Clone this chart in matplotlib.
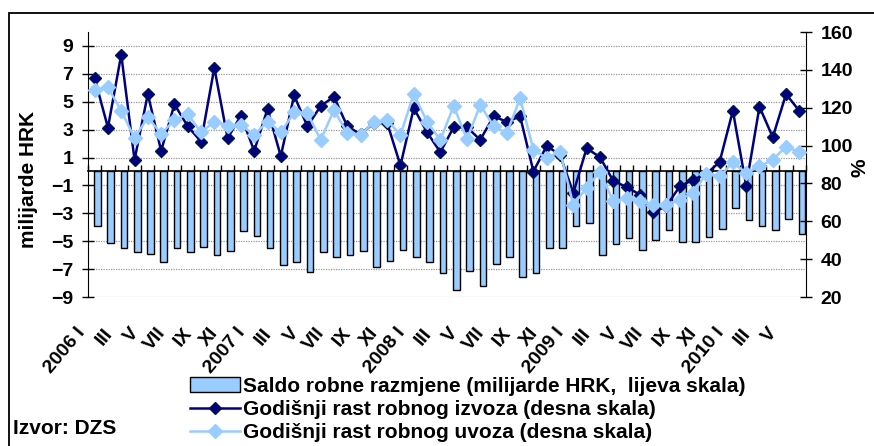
import matplotlib
matplotlib.use("Agg")
import matplotlib.pyplot as plt
import matplotlib.transforms as mtransforms
from matplotlib.patches import Rectangle
import numpy as np

plt.rcParams['font.family'] = ['Liberation Sans', 'DejaVu Sans']
plt.rcParams['font.weight'] = 'bold'

# monthly data, I/2006 - VI/2010
years = [2006, 2007, 2008, 2009, 2010]
months = ['I', 'II', 'III', 'IV', 'V', 'VI', 'VII', 'VIII', 'IX', 'X', 'XI', 'XII']
months_2010 = 6

# saldo robne razmjene, milijarde HRK (lijeva skala)
saldo = [-3.9, -5.1, -5.5, -5.8, -5.9, -6.5, -5.5, -5.8, -5.4, -6.0, -5.7, -4.3,
         -4.6, -5.5, -6.7, -6.5, -7.2, -5.8, -6.1, -6.0, -5.7, -6.85, -6.4, -5.65,
         -6.1, -6.5, -7.3, -8.5, -7.1, -8.2, -6.6, -6.1, -7.6, -7.3, -5.5, -5.5,
         -3.9, -3.7, -6.0, -5.2, -4.8, -5.65, -4.9, -4.2, -5.05, -5.05, -4.7, -4.1,
         -2.6, -3.5, -3.9, -4.2, -3.4, -4.45]

# godisnji rast robnog izvoza, % (desna skala)
izvoz = [135.5, 109.5, 148.1, 92.5, 127.2, 97.2, 121.8, 110.2, 102.1, 141.1, 103.9, 115.8,
         97.2, 119.3, 94.4, 126.5, 110.2, 120.9, 125.8, 110.2, 106.0, 112.0, 112.0, 89.5,
         119.8, 107.0, 96.5, 109.7, 109.7, 103.0, 115.4, 112.6, 115.4, 86.3, 99.9, 95.0,
         75.0, 98.6, 93.9, 81.4, 78.1, 74.1, 64.7, 68.0, 78.4, 81.9, 85.0, 91.3,
         118.4, 78.8, 120.5, 104.4, 127.2, 118.3]

# godisnji rast robnog uvoza, % (desna skala)
uvoz = [129.5, 130.7, 118.4, 103.9, 115.0, 106.2, 113.5, 116.7, 107.0, 112.6, 110.4, 110.9,
        105.6, 112.6, 107.0, 117.5, 117.2, 103.0, 118.8, 106.5, 105.6, 112.6, 113.5, 105.6,
        127.2, 112.6, 103.0, 120.9, 103.4, 121.4, 110.4, 106.5, 125.1, 97.7, 93.4, 96.8,
        68.8, 77.6, 86.3, 70.5, 72.3, 70.5, 68.8, 68.8, 71.4, 75.0, 85.1, 83.7,
        91.1, 85.5, 89.0, 92.5, 99.5, 96.5]

labels = ['Saldo robne razmjene (milijarde HRK,  lijeva skala)',
          'Godišnji rast robnog izvoza (desna skala)',
          'Godišnji rast robnog uvoza (desna skala)']

# category labels: every other month, year added to January
cat_labels = []
for y in years:
    n_m = months_2010 if y == 2010 else 12
    for m in months[:n_m]:
        cat_labels.append(f'{y} {m}' if m == 'I' else m)

n = len(saldo)
x = np.arange(n)

fig = plt.figure(figsize=(8.74, 4.46), dpi=100)
ax = fig.add_axes([88 / 874, 1 - 297 / 446, 718 / 874, 265 / 446])

bars = ax.bar(x + 0.2, saldo, width=0.5, color='#99CCFF', edgecolor='black',
              linewidth=1, zorder=2)
ax.set_xlim(-0.5, n - 0.5)
ax.set_ylim(-9, 10)
ax.set_yticks(np.arange(-9, 10, 2))
ax.yaxis.grid(True, color='#999999', linestyle=(0, (1, 1)), linewidth=0.9)
ax.set_axisbelow(True)

# category axis crosses at zero, ticks between months
ax.spines['bottom'].set_position(('data', 0))
ax.spines['bottom'].set_linewidth(1.2)
ax.spines['top'].set_visible(False)
ax.spines['right'].set_visible(False)
ax.set_xticks(np.arange(-0.5, n, 1))
ax.tick_params(axis='x', direction='in', length=4.5, width=1, labelbottom=False)
ax.tick_params(axis='y', direction='inout', length=9, width=1, pad=6, labelsize=14)

# month labels at the bottom of the plot
sec = ax.secondary_xaxis('bottom')
sec.set_xticks(x[::2], labels=cat_labels[::2])
sec.tick_params(length=0, pad=24, labelsize=14)
sec.spines['bottom'].set_visible(False)
shift = mtransforms.ScaledTranslation(-12 / 100, 0, fig.dpi_scale_trans)
for lab in sec.get_xticklabels():
    lab.set_rotation(50)
    lab.set_ha('right')
    lab.set_va('center')
    lab.set_rotation_mode('anchor')
    lab.set_transform(lab.get_transform() + shift)

ax2 = ax.twinx()
l1, = ax2.plot(x, izvoz, color='#000080', linewidth=1.8, marker='D', markersize=6.5,
               markerfacecolor='#000080', markeredgecolor='#001a4d', zorder=3)
l2, = ax2.plot(x, uvoz, color='#99CCFF', linewidth=1.8, marker='D', markersize=7.5,
               markerfacecolor='#99CCFF', markeredgecolor='#99CCFF', zorder=4)
ax2.set_ylim(20, 160)
ax2.set_yticks(np.arange(20, 161, 20))
for s in ['top', 'left', 'bottom']:
    ax2.spines[s].set_visible(False)
ax2.tick_params(axis='y', direction='inout', length=9, width=1, pad=6, labelsize=14)

fig.text(28 / 874, 1 - 179 / 446, 'milijarde HRK', rotation=90, ha='center',
         va='center', fontsize=15)
fig.text(860 / 874, 1 - 168 / 446, '%', rotation=90, ha='center', va='center',
         fontsize=15)

fig.legend([bars, l1, l2], labels, loc='upper left',
           bbox_to_anchor=(190 / 874, 1 - 377 / 446), frameon=False, fontsize=15,
           handlelength=2.4, handletextpad=0.15, labelspacing=0.2, borderpad=0,
           borderaxespad=0, numpoints=1)

fig.text(13 / 874, 1 - 428 / 446, 'Izvor: DZS', ha='left', va='center', fontsize=15)

# chart area border (cut off at right and bottom like the source)
fig.add_artist(Rectangle((9 / 874, -0.1), 1.2, 1.1 - 13 / 446,
                         transform=fig.transFigure, fill=False, edgecolor='black',
                         linewidth=1.3))

fig.savefig('out.png', dpi=100)
